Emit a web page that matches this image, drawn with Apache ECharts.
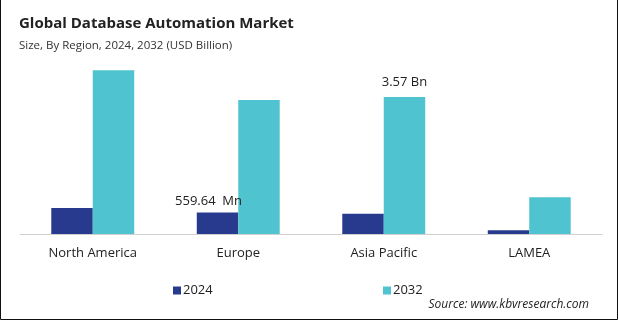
<!DOCTYPE html>
<html>
<head>
<meta charset="utf-8">
<script src="https://cdn.jsdelivr.net/npm/echarts@6/dist/echarts.min.js"></script>
<style>
  html, body { margin: 0; padding: 0; background: #fff; }
  #chart { width: 619px; height: 322px; }
</style>
</head>
<body>
<div id="chart"></div>
<script>
// Regional market size, USD billion
const regions = ['North America', 'Europe', 'Asia Pacific', 'LAMEA'];
const years = ['2024', '2032'];
const values2024 = [0.68, 0.55964, 0.53, 0.10];
const values2032 = [4.27, 3.49, 3.57, 0.96];
// Value callouts: [series index, category index, text]
const callouts = [
  [0, 1, '559.64  Mn'],
  [1, 2, '3.57 Bn']
];

const colors = ['#283a8e', '#4fc3cf'];
const font = '"Open Sans", "Noto Sans", sans-serif';

const chart = echarts.init(document.getElementById('chart'));

function seriesData(values, sIdx) {
  return values.map((v, i) => {
    const c = callouts.find(x => x[0] === sIdx && x[1] === i);
    if (!c) return v;
    return {
      value: v,
      label: {
        show: true,
        position: 'top',
        distance: sIdx === 0 ? 5 : 8,
        offset: sIdx === 0 ? [-9, 0] : [0, 0],
        formatter: c[2],
        color: '#222',
        fontSize: 13,
        fontFamily: font
      }
    };
  });
}

chart.setOption({
  animation: false,
  backgroundColor: '#fff',
  title: [
    {
      text: 'Global Database Automation Market',
      left: 14, top: 11,
      textStyle: { fontSize: 15, fontWeight: 'bold', color: '#222', fontFamily: font }
    },
    {
      text: 'Size, By Region, 2024, 2032 (USD Billion)',
      left: 14, top: 35,
      textStyle: { fontSize: 11.5, fontWeight: 'normal', color: '#333', fontFamily: font }
    }
  ],
  legend: [
    {
      data: [years[0]], left: 168, top: 279,
      itemWidth: 8, itemHeight: 8, icon: 'rect',
      textStyle: { fontSize: 13, color: '#222', fontFamily: font, padding: [0, 0, 0, -3] }
    },
    {
      data: [years[1]], left: 378, top: 279,
      itemWidth: 8, itemHeight: 8, icon: 'rect',
      textStyle: { fontSize: 13, color: '#222', fontFamily: font, padding: [0, 0, 0, -3] }
    }
  ],
  grid: { left: 20, right: 17, top: 42.15, bottom: 88, containLabel: false },
  xAxis: {
    type: 'category',
    data: regions,
    axisLine: { lineStyle: { color: '#d0d0d0', width: 1 } },
    axisTick: { show: false },
    axisLabel: { color: '#222', fontSize: 13, fontFamily: font, margin: 13 }
  },
  yAxis: {
    type: 'value', min: 0, max: 5,
    show: false,
    splitLine: { show: false }
  },
  series: [
    {
      name: years[0], type: 'bar',
      data: seriesData(values2024, 0),
      itemStyle: { color: colors[0] },
      barGap: '0%', barCategoryGap: '43%'
    },
    {
      name: years[1], type: 'bar',
      data: seriesData(values2032, 1),
      itemStyle: { color: colors[1] },
      barGap: '0%', barCategoryGap: '43%'
    }
  ],
  graphic: [
    {
      type: 'text', right: 30, top: 299,
      style: {
        text: 'Source: www.kbvresearch.com',
        fill: '#222', fontSize: 12, fontStyle: 'italic', fontFamily: font
      }
    },
    {
      type: 'polyline', silent: true,
      shape: { points: [[0.5, 0], [0.5, 319.5], [617.5, 319.5], [617.5, 0]] },
      style: { stroke: '#111', lineWidth: 1, fill: null }
    }
  ]
});
</script>
</body>
</html>
